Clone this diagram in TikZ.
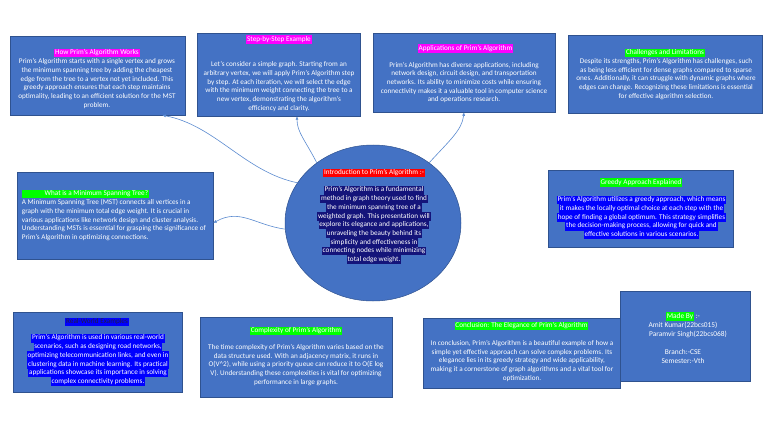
\documentclass[tikz,border=0pt]{standalone}
\usepackage{fontspec}
\setmainfont{Carlito}
\usetikzlibrary{shapes.geometric, arrows.meta, positioning}
\definecolor{slideblue}{HTML}{4472C4}
\definecolor{slideedge}{HTML}{2F528F}
\definecolor{hlpink}{HTML}{FF00FF}
\definecolor{hlgreen}{HTML}{00FF00}
\definecolor{hlred}{HTML}{FF0000}
\definecolor{hlblue}{HTML}{0000FF}
\definecolor{hlnavy}{HTML}{14147A}
\definecolor{linkblue}{HTML}{5B8BD0}
\definecolor{darktitle}{HTML}{202040}
\newcommand{\hl}[2]{{\setlength{\fboxsep}{0pt}\colorbox{#1}{\strut\kern0.8pt#2\kern0.8pt}}}

\begin{document}
\begin{tikzpicture}[x=1pt, y=-1pt,
  card/.style={draw=slideedge, fill=slideblue, line width=0.5pt, inner sep=0pt},
  body/.style={text=white, align=center, inner sep=0pt, font=\fontsize{7.2}{8.7}\selectfont},
  link/.style={draw=linkblue, line width=0.6pt, -{Latex[length=3.5pt,width=3pt]}}]
\useasboundingbox[fill=white] (0,0) rectangle (768,433);
% Top row
\node[card, minimum width=175pt, minimum height=79pt] (howbox) at (97.5,75.5) {};
\node[body] (howtitle) at (97,53) {\hl{hlpink}{How Prim's Algorithm Works}};
\node[body] (howtext) at (97,83.5) {Prim's Algorithm starts with a single vertex and grows\\
  the minimum spanning tree by adding the cheapest\\
  edge from the tree to a vertex not yet included. This\\
  greedy approach ensures that each step maintains\\
  optimality, leading to an efficient solution for the MST\\
  problem.};
\node[card, minimum width=163pt, minimum height=83pt] (stepbox) at (278.5,74.5) {};
\node[body] (steptitle) at (279,39.5) {\hl{hlpink}{Step-by-Step Example}};
\node[body] (steptext) at (279,86.5) {Let's consider a simple graph. Starting from an\\
  arbitrary vertex, we will apply Prim's Algorithm step\\
  by step. At each iteration, we will select the edge\\
  with the minimum weight connecting the tree to a\\
  new vertex, demonstrating the algorithm's\\
  efficiency and clarity.};
\node[card, minimum width=182pt, minimum height=79pt] (appbox) at (464,72.5) {};
\node[body] (apptitle) at (465.5,48.5) {\hl{hlpink}{Applications of Prim's Algorithm}};
\node[body] (apptext) at (464,82.5) {Prim's Algorithm has diverse applications, including\\
  network design, circuit design, and transportation\\
  networks. Its ability to minimize costs while ensuring\\
  connectivity makes it a valuable tool in computer science\\
  and operations research.};
\node[card, minimum width=194pt, minimum height=78pt] (limitbox) at (665,74) {};
\node[body] (limittitle) at (665,53) {\hl{hlgreen}{Challenges and Limitations}};
\node[body] (limittext) at (666,79) {Despite its strengths, Prim's Algorithm has challenges, such\\
  as being less efficient for dense graphs compared to sparse\\
  ones. Additionally, it can struggle with dynamic graphs where\\
  edges can change. Recognizing these limitations is essential\\
  for effective algorithm selection.};
% Middle row
\node[card, minimum width=196pt, minimum height=87pt] (mstbox) at (115,215.5) {};
\node[body, anchor=west] (msttitle) at (21.7,194) {\hl{hlgreen}{\hspace*{22pt}What is a Minimum Spanning Tree?}};
\node[body, anchor=west, align=left] (msttext) at (21.7,220) {A Minimum Spanning Tree (MST) connects all vertices in a\\
  graph with the minimum total edge weight. It is crucial in\\
  various applications like network design and cluster analysis.\\
  Understanding MSTs is essential for grasping the significance of\\
  Prim's Algorithm in optimizing connections.};
\node[card, ellipse, minimum width=176pt, minimum height=156pt] (intro) at (373,223) {};
\node[body] (introtitle) at (374,173) {\hl{hlred}{Introduction to Prim's Algorithm :-}};
\node[body] (introtext) at (374,225) {\hl{hlnavy}{Prim's Algorithm is a fundamental}\\
  \hl{hlnavy}{method in graph theory used to find}\\
  \hl{hlnavy}{the minimum spanning tree of a}\\
  \hl{hlnavy}{weighted graph. This presentation will}\\
  \hl{hlnavy}{explore its elegance and applications,}\\
  \hl{hlnavy}{unraveling the beauty behind its}\\
  \hl{hlnavy}{simplicity and effectiveness in}\\
  \hl{hlnavy}{connecting nodes while minimizing}\\
  \hl{hlnavy}{total edge weight.}};
\node[card, minimum width=185pt, minimum height=77pt] (greedybox) at (640.5,208.5) {};
\node[body] (greedytitle) at (641,182.5) {\hl{hlgreen}{Greedy Approach Explained}};
\node[body] (greedytext) at (641.5,217.5) {\hl{hlblue}{Prim's Algorithm utilizes a greedy approach, which means}\\
  \hl{hlblue}{it makes the locally optimal choice at each step with the}\\
  \hl{hlblue}{hope of finding a global optimum. This strategy simplifies}\\
  \hl{hlblue}{the decision-making process, allowing for quick and}\\
  \hl{hlblue}{effective solutions in various scenarios.}};
% Bottom row
\node[card, minimum width=169pt, minimum height=80pt] (realbox) at (97.5,352) {};
\node[body] (realtitle) at (97,322) {\hl{hlblue}{\textcolor{darktitle}{Real-World Examples}}};
\node[body] (realtext) at (98,360) {\hl{hlblue}{Prim's Algorithm is used in various real-world}\\
  \hl{hlblue}{scenarios, such as designing road networks,}\\
  \hl{hlblue}{optimizing telecommunication links, and even in}\\
  \hl{hlblue}{clustering data in machine learning. Its practical}\\
  \hl{hlblue}{applications showcase its importance in solving}\\
  \hl{hlblue}{complex connectivity problems.}};
\node[card, minimum width=192pt, minimum height=80pt] (cplxbox) at (296,357) {};
\node[body] (cplxtitle) at (296,331) {\hl{hlgreen}{Complexity of Prim's Algorithm}};
\node[body] (cplxtext) at (296,365) {The time complexity of Prim's Algorithm varies based on the\\
  data structure used. With an adjacency matrix, it runs in\\
  O(V\textasciicircum 2), while using a priority queue can reduce it to O(E log\\
  V). Understanding these complexities is vital for optimizing\\
  performance in large graphs.};
\node[card, minimum width=197pt, minimum height=70pt] (endbox) at (521.5,353) {};
\node[body] (endtitle) at (521.5,326) {\hl{hlgreen}{Conclusion: The Elegance of Prim's Algorithm}};
\node[body] (endtext) at (522,361) {In conclusion, Prim's Algorithm is a beautiful example of how a\\
  simple yet effective approach can solve complex problems. Its\\
  elegance lies in its greedy strategy and wide applicability,\\
  making it a cornerstone of graph algorithms and a vital tool for\\
  optimization.};
\node[card, minimum width=130pt, minimum height=90pt] (credbox) at (685,336) {};
\node[body, font=\fontsize{7.4}{9}\selectfont] (credtext) at (683,338) {\hl{hlgreen}{Made By} :-\\
  Amit Kumar(22bcs015)\\
  \hspace*{10pt}Paramvir Singh(22bcs068)\\[9pt]
  Branch:-CSE\\
  Semester:-Vth};
% Connectors
\draw[link] (intro.152) .. controls (245,172) and (215,125) .. ([xshift=-23pt]howbox.south east);
\draw[link] (intro.133) .. controls (305,140) and (297,132) .. ([xshift=18.5pt]stepbox.south);
\draw[link] (intro.47) .. controls (450,140) and (462,130) .. (appbox.south);
\draw[link] (intro.184) .. controls (255,225) and (240,208) .. ([yshift=-7.5pt]mstbox.east);
\end{tikzpicture}
\end{document}
